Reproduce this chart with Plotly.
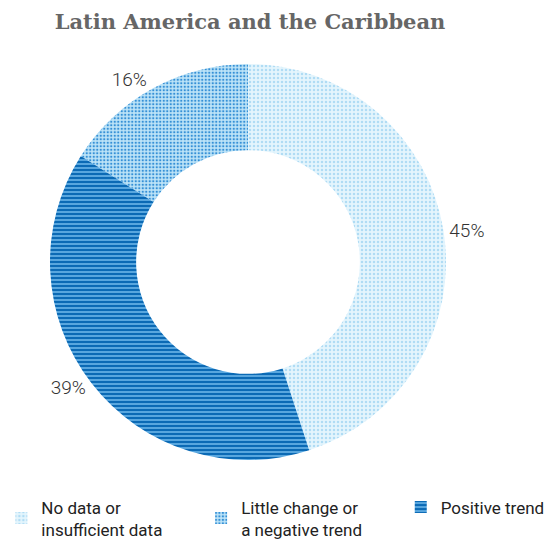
import plotly.graph_objects as go

pad = "&nbsp;" * 8
labels = [
    "No data or<br>insufficient data" + pad,
    "Little change or<br>a negative trend" + pad,
    "Positive trend",
]
values = [45, 16, 39]
bg_colors = ["#e4f5fd", "#bde4f8", "#58a6de"]
fg_colors = ["#b0dcf4", "#3590d6", "#0b6ab5"]
shapes = [".", ".", "-"]

fig = go.Figure(
    go.Pie(
        labels=labels,
        values=values,
        hole=0.565,
        sort=False,
        direction="counterclockwise",
        rotation=0,
        domain=dict(x=[42 / 553, 438 / 553]),
        textinfo="percent",
        textposition="outside",
        textfont=dict(family="Roboto", size=19, color="#333333", weight=300),
        marker=dict(
            colors=bg_colors,
            line=dict(width=0),
            pattern=dict(
                shape=shapes,
                bgcolor=bg_colors,
                fgcolor=fg_colors,
                size=[4, 3.5, 4],
                solidity=[0.3, 0.35, 0.5],
                fillmode="replace",
            ),
        ),
        showlegend=True,
    )
)

fig.update_layout(
    width=553,
    height=541,
    margin=dict(l=0, r=0, t=56, b=89, autoexpand=False),
    paper_bgcolor="white",
    title=dict(
        text="<b>Latin America and the Caribbean</b>",
        x=0.4376,
        xanchor="center",
        y=0.974,
        yanchor="middle",
        font=dict(family="DejaVu Serif", size=21, color="#666666"),
    ),
    legend=dict(
        orientation="h",
        x=-0.012,
        y=-0.0745,
        xanchor="left",
        yanchor="top",
        font=dict(family="Roboto", size=17, color="#222222"),
    ),
)

fig.write_html("out.html")
